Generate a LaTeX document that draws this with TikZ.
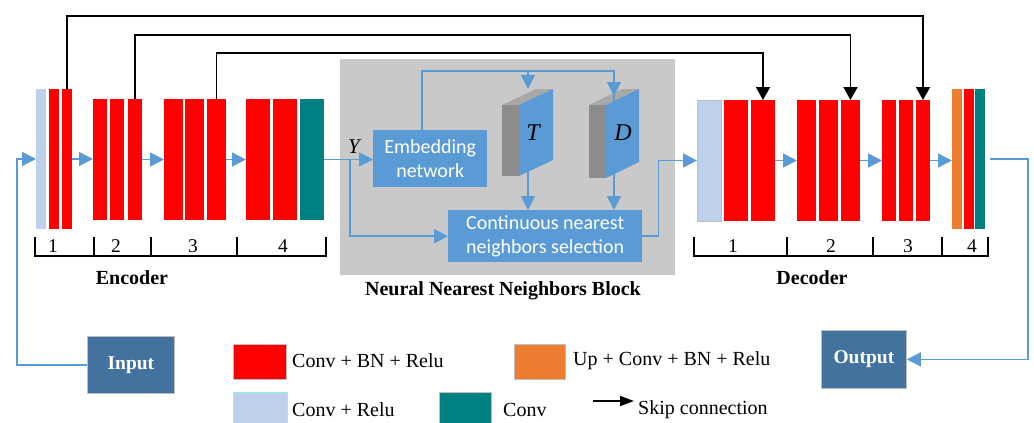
\documentclass[tikz,border=0pt]{standalone}
\usepackage{fontspec}
\setmainfont{Liberation Serif}
\newfontfamily\calibfont{Carlito}
\usetikzlibrary{arrows.meta,calc}
\definecolor{cred}{HTML}{FF0000}
\definecolor{cteal}{HTML}{008080}
\definecolor{clight}{HTML}{BDD1EA}
\definecolor{corange}{HTML}{ED7D31}
\definecolor{cblue}{HTML}{5B9BD5}
\definecolor{cio}{HTML}{44729E}
\definecolor{cbg}{HTML}{C9C9C9}
\definecolor{cside}{HTML}{8C8C8C}
\definecolor{ctop}{HTML}{A8A8A8}
\definecolor{cedge}{HTML}{BFBFBF}
\definecolor{caqua}{HTML}{8FF5DC}

\begin{document}
\begin{tikzpicture}[x=1pt,y=-1pt,
  bar/.style={draw=none,inner sep=0pt,outer sep=0pt,anchor=north west},
  redbar/.style={bar,fill=cred},
  flow/.style={draw=cblue,line width=1.6pt,-{Triangle[length=14pt,width=14pt]}},
  flowline/.style={draw=cblue,line width=1.6pt},
  skip/.style={draw=black,line width=1.8pt,-{Triangle[length=13pt,width=14pt]}},
  brk/.style={draw=black,line width=1.6pt},
  num/.style={font=\fontsize{19.5}{21}\selectfont,inner sep=0pt},
  title/.style={font=\bfseries\fontsize{20}{22}\selectfont,inner sep=0pt},
  legtxt/.style={font=\fontsize{20}{22}\selectfont,inner sep=0pt,anchor=west},
  swatch/.style={draw=cedge,line width=0.8pt,inner sep=0pt,anchor=north west},
  bluebox/.style={fill=cblue,draw=none,inner sep=0pt,text=white,align=center,
    font=\calibfont\fontsize{20}{24}\selectfont,anchor=north west},
  iobox/.style={fill=cio,draw=cedge,line width=0.8pt,inner sep=0pt,text=white,
    font=\bfseries\fontsize{19.5}{21}\selectfont,anchor=north west}
]
\useasboundingbox (0,0) rectangle (1034,423);

% ---------------- N3 block background ----------------
\fill[cbg] (340,59) rectangle (675,275);
\node[title] (n3title) at (503,291) {Neural Nearest Neighbors Block};

% ---------------- Encoder ----------------
\node[bar,fill=clight,minimum width=10pt,minimum height=140pt] (e0) at (36,89) {};
\node[redbar,minimum width=10pt,minimum height=140pt] (e1a) at (49,89) {};
\node[redbar,minimum width=10pt,minimum height=140pt] (e1b) at (62,89) {};

\node[redbar,minimum width=14pt,minimum height=121pt] (e2a) at (93,99) {};
\node[redbar,minimum width=14pt,minimum height=121pt] (e2b) at (110,99) {};
\node[redbar,minimum width=14pt,minimum height=121pt] (e2c) at (128,99) {};

\node[redbar,minimum width=19pt,minimum height=121pt] (e3a) at (164,99) {};
\node[redbar,minimum width=19pt,minimum height=121pt] (e3b) at (185,99) {};
\node[redbar,minimum width=19pt,minimum height=121pt] (e3c) at (207,99) {};

\node[redbar,minimum width=24pt,minimum height=121pt] (e4a) at (246,99) {};
\node[redbar,minimum width=24pt,minimum height=121pt] (e4b) at (273,99) {};
\node[bar,fill=cteal,minimum width=24pt,minimum height=121pt] (e4c) at (300,99) {};

\draw[flow] (e1b.east) -- (e1b.east -| e2a.west);
\draw[flow] (e2c.east) -- (e3a.west);
\draw[flow] (e3c.east) -- (e4a.west);

% encoder bracket
\draw[brk] (35,237) -- (35,256) -- (326,256) -- (326,237);
\draw[brk] (94,237) -- (94,256);
\draw[brk] (151,237) -- (151,256);
\draw[brk] (237,237) -- (237,256);
\node[num] (en1) at (53,246) {1};
\node[num] (en2) at (116,246) {2};
\node[num] (en3) at (193,246) {3};
\node[num] (en4) at (283,246) {4};
\node[title] (enc) at (132,278) {Encoder};

% ---------------- Decoder ----------------
\node[bar,fill=clight,draw=cedge,line width=0.6pt,minimum width=24pt,minimum height=121pt] (d0) at (697,100) {};
\node[redbar,minimum width=24pt,minimum height=121pt] (d1a) at (724,100) {};
\node[redbar,minimum width=24pt,minimum height=121pt] (d1b) at (751,100) {};

\node[redbar,minimum width=19pt,minimum height=121pt] (d2a) at (797,100) {};
\node[redbar,minimum width=19pt,minimum height=121pt] (d2b) at (819,100) {};
\node[redbar,minimum width=19pt,minimum height=121pt] (d2c) at (841,100) {};

\node[redbar,minimum width=14pt,minimum height=121pt] (d3a) at (882,100) {};
\node[redbar,minimum width=14pt,minimum height=121pt] (d3b) at (899,100) {};
\node[redbar,minimum width=14pt,minimum height=121pt] (d3c) at (916,100) {};

\node[bar,fill=corange,minimum width=10pt,minimum height=140pt] (d4a) at (952,89) {};
\node[redbar,minimum width=10pt,minimum height=140pt] (d4b) at (964,89) {};
\node[bar,fill=cteal,minimum width=10pt,minimum height=140pt] (d4c) at (975,89) {};

\draw[flow] (d1b.east) -- (d2a.west);
\draw[flow] (d2c.east) -- (d3a.west);
\draw[flow] (d3c.east) -- (d3c.east -| d4a.west);

% decoder bracket
\draw[brk] (694,237) -- (694,256) -- (988,256) -- (988,237);
\draw[brk] (787,237) -- (787,256);
\draw[brk] (873,237) -- (873,256);
\draw[brk] (942,237) -- (942,256);
\node[num] (dn1) at (733,246) {1};
\node[num] (dn2) at (831,246) {2};
\node[num] (dn3) at (908,246) {3};
\node[num] (dn4) at (972,246) {4};
\node[title] (dec) at (812,278) {Decoder};

% ---------------- Skip connections ----------------
\draw[skip] (e1b.north) -- ++(0,-73) -| (d3c.north);
\draw[skip] (e2c.north) -- ++(0,-64) -| (d2c.north);
\draw[skip] (e3c.north) -- ++(0,-46) -| (d1b.north);

% ---------------- Neural nearest neighbors block ----------------
\node[bluebox,minimum width=114pt,minimum height=57pt] (emb) at (373,130) {Embedding\\network};
\node[bluebox,minimum width=194pt,minimum height=52pt] (sel) at (448,210) {Continuous nearest\\neighbors selection};

% T slab
\fill[cside] (502,105) rectangle (519,176);
\fill[ctop] (502,105) -- (519,105) -- (553,89) -- (536,89) -- cycle;
\fill[cblue] (519,105) -- (553,89) -- (553,160) -- (519,176) -- cycle;
\node[font=\itshape\fontsize{24}{26}\selectfont,inner sep=0pt] (tlab) at (533,133) {T};
% D slab
\fill[cside] (589,105) rectangle (606,178);
\fill[ctop] (589,105) -- (606,105) -- (639,89) -- (622,89) -- cycle;
\fill[cblue] (606,105) -- (639,89) -- (639,162) -- (606,178) -- cycle;
\node[font=\itshape\fontsize{24}{26}\selectfont,inner sep=0pt] (dlab) at (623,133) {D};

\coordinate (tin) at (528,89);
\coordinate (tout) at (528,172);
\coordinate (din) at (614,96);
\coordinate (dout) at (614,174);
\coordinate (embtop) at (422,71);

\node[font=\itshape\fontsize{21}{23}\selectfont,inner sep=0pt] (ylab) at (354,147) {Y};
\coordinate (ybr) at (350,159);

\draw[flow] (e4c.east) -- (e4c.east -| emb.west);
\draw[flow] (ybr) |- (sel.west);
\draw[flowline] (emb.north -| embtop) -- (embtop) -| ([yshift=-12pt]din);
\draw[flow] (embtop -| tin) -- (tin);
\draw[flow] (embtop -| din) -- (din);
\draw[flow] (tout) -- (tout |- sel.north);
\draw[flow] (dout) -- (dout |- sel.north);
\draw[flow] (sel.east) -- ++(16,0) |- (d0.west);

% ---------------- Input / Output ----------------
\node[iobox,minimum width=87pt,minimum height=57pt] (in) at (87,336) {Input};
\node[iobox,minimum width=85pt,minimum height=58pt] (out) at (821,330) {Output};
\draw[flow] (in.west) -| ([xshift=-19pt]e0.west) -- (e0.west);
\draw[flow] ([xshift=5pt]d4c.east) -- ++(38,0) |- (out.east);

% ---------------- Legend ----------------
\node[swatch,fill=cred,minimum width=53pt,minimum height=35pt] (lred) at (233,344) {};
\node[legtxt] (tred) at (292,361) {Conv + BN + Relu};
\node[swatch,fill=corange,minimum width=51pt,minimum height=35pt] (lor) at (514,344) {};
\node[legtxt] (tor) at (573,361) {Up + Conv + BN + Relu};
\node[swatch,draw=caqua,fill=clight,minimum width=54pt,minimum height=34pt] (llb) at (233,392) {};
\node[legtxt] (tlb) at (292,410) {Conv + Relu};
\node[swatch,fill=cteal,minimum width=52pt,minimum height=34pt] (lte) at (439,392) {};
\node[legtxt] (tte) at (503,410) {Conv};
\coordinate (sk1) at (593,401);
\coordinate (sk2) at (634,401);
\draw[draw=black,line width=1.4pt,-{Triangle[length=14pt,width=10pt]}] (sk1) -- (sk2);
\node[legtxt] (tsk) at (638,410) {Skip connection};
\end{tikzpicture}
\end{document}
